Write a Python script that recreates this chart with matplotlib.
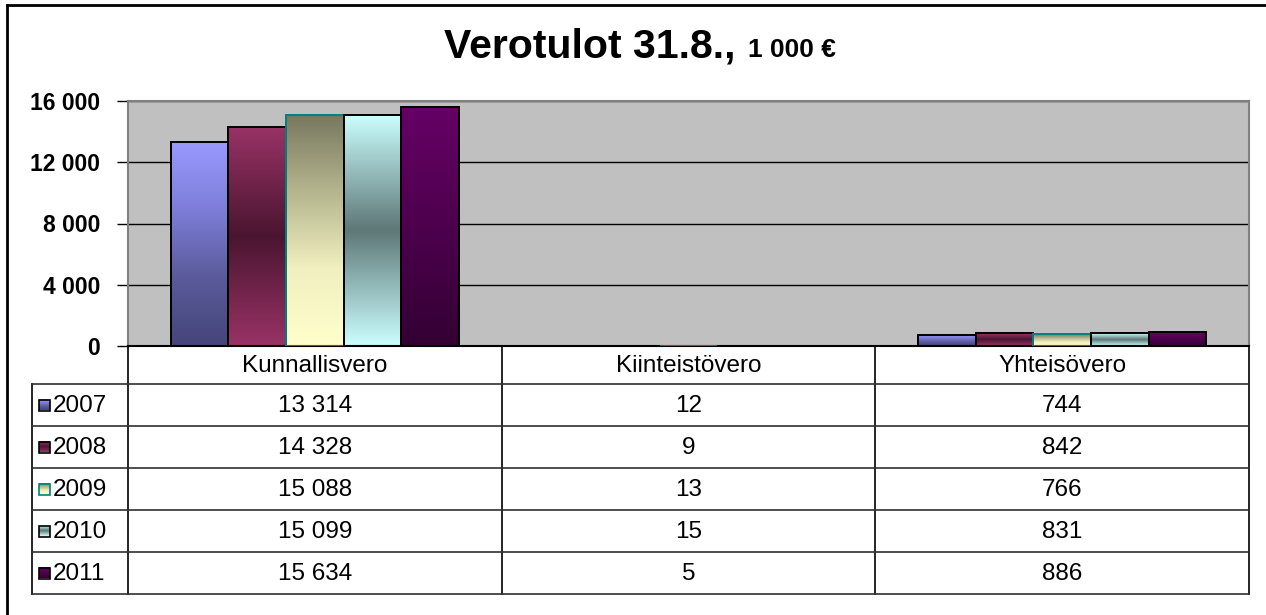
import matplotlib.pyplot as plt
import numpy as np
from matplotlib.colors import LinearSegmentedColormap
from matplotlib.patches import Rectangle

categories = ["Kunnallisvero", "Kiinteistövero", "Yhteisövero"]
years = ["2007", "2008", "2009", "2010", "2011"]
v2007 = [13314, 12, 744]
v2008 = [14328, 9, 842]
v2009 = [15088, 13, 766]
v2010 = [15099, 15, 831]
v2011 = [15634, 5, 886]
series = [v2007, v2008, v2009, v2010, v2011]
yticks = [0, 4000, 8000, 12000, 16000]

# bar fill gradients, top -> bottom
gradients = [
    ["#9999ff", "#7d7dd8", "#5a5a9a", "#45457a"],
    ["#993366", "#4a1530", "#993366"],
    ["#77775f", "#b5b58e", "#f0f0c0", "#ffffcc"],
    ["#ccffff", "#5e7777", "#ccffff"],
    ["#660066", "#4d004d", "#330033"],
]
edges = ["black", "black", "#008080", "black", "black"]

W, H = 1266, 615
L, R, TOP, BOT = 128, 1249, 101, 346
ROW0, ROWH, HEADH = 346, 42, 38
TL = 32

plt.rcParams["font.family"] = ["Liberation Sans", "DejaVu Sans"]

fig = plt.figure(figsize=(W / 100, H / 100), dpi=100)
ax = fig.add_axes([L / W, 1 - BOT / H, (R - L) / W, (BOT - TOP) / H])
ax.set_facecolor("#c0c0c0")

grad = np.linspace(0, 1, 256).reshape(-1, 1)
n = len(series)
group = 0.772
bw = group / n
x = np.arange(len(categories))
for i, vals in enumerate(series):
    cmap = LinearSegmentedColormap.from_list(f"g{i}", gradients[i])
    pos = x + (i - (n - 1) / 2) * bw
    bars = ax.bar(pos, vals, bw, facecolor="none", edgecolor=edges[i],
                  linewidth=1.4, zorder=3)
    for b in bars:
        x0, y0 = b.get_x(), b.get_y()
        im = ax.imshow(grad, cmap=cmap, aspect="auto", origin="upper",
                       extent=[x0, x0 + b.get_width(), y0, y0 + b.get_height()],
                       interpolation="bilinear", zorder=2)
        im.set_clip_path(b)

ax.set_xlim(-0.5, len(categories) - 0.5)
ax.set_ylim(0, 16000)
ax.set_yticks(yticks)
ax.set_yticklabels([f"{v:,}".replace(",", " ") for v in yticks],
                   fontsize=16.5, fontweight="bold")
ax.set_xticks([])
ax.yaxis.grid(True, color="black", linewidth=1)
ax.set_axisbelow(True)
ax.tick_params(axis="y", length=8, width=1, color="black", pad=12)
for side in ["top", "right", "left"]:
    ax.spines[side].set_color("#808080")
    ax.spines[side].set_linewidth(1.5)
ax.spines["bottom"].set_color("black")
ax.spines["bottom"].set_linewidth(1.5)

# overlay in pixel coordinates for the title, data table and frame
ov = fig.add_axes([0, 0, 1, 1], facecolor="none")
ov.set_xlim(0, W)
ov.set_ylim(H, 0)
ov.axis("off")

ov.text(736, 57, "Verotulot 31.8.,", ha="right", va="baseline",
        fontsize=29.5, fontweight="bold")
ov.text(748, 57, "1 000 €", ha="left", va="baseline",
        fontsize=19, fontweight="bold")

# frame
ov.plot([7, 7], [5, H], color="black", lw=2)
ov.plot([7, W], [5, 5], color="black", lw=2)

colw = (R - L) / len(categories)
cols = [L + k * colw for k in range(len(categories) + 1)]
bottom = ROW0 + HEADH + ROWH * n
for cx in cols:
    ov.plot([cx, cx], [ROW0, bottom], color="black", lw=1.2)
ov.plot([TL, TL], [ROW0 + HEADH, bottom], color="black", lw=1.2)
for r in range(n + 1):
    yy = ROW0 + HEADH + r * ROWH
    ov.plot([TL, R], [yy, yy], color="#303030", lw=1.2)

for k, cat in enumerate(categories):
    ov.text((cols[k] + cols[k + 1]) / 2, ROW0 + HEADH / 2 + 1, cat,
            ha="center", va="center", fontsize=17.5)

for i, vals in enumerate(series):
    yc = ROW0 + HEADH + (i + 0.5) * ROWH
    cmap = LinearSegmentedColormap.from_list(f"l{i}", gradients[i])
    ov.imshow(grad, cmap=cmap, aspect="auto", origin="upper",
              extent=[39, 50, yc + 5.5, yc - 5.5], zorder=2)
    ov.add_patch(Rectangle((39, yc - 5.5), 11, 11, fill=False,
                           edgecolor=edges[i], lw=1.2, zorder=3))
    ov.text(53, yc + 1, years[i], ha="left", va="center", fontsize=17.5)
    for k, v in enumerate(vals):
        ov.text((cols[k] + cols[k + 1]) / 2, yc + 1, f"{v:,}".replace(",", " "),
                ha="center", va="center", fontsize=17.5)
ov.set_xlim(0, W)
ov.set_ylim(H, 0)

fig.savefig("out.png", dpi=100)
